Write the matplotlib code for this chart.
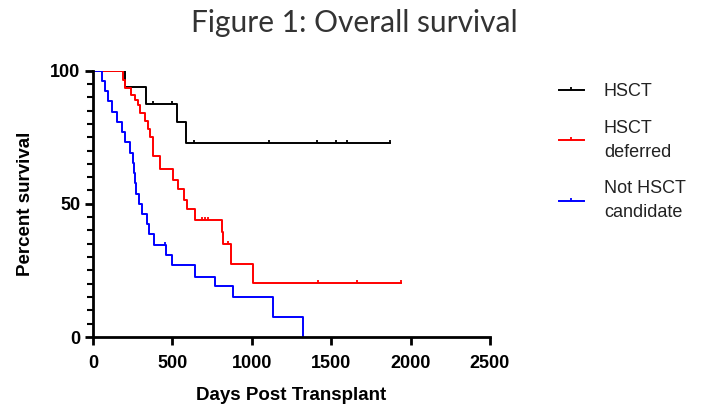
import numpy as np
import matplotlib
matplotlib.use("Agg")
from matplotlib import pyplot as plt
from matplotlib.ticker import MultipleLocator
from matplotlib.lines import Line2D

# step curves (day of step, survival after step)
hsct_days = [0, 201, 333, 526, 585, 1868]
hsct_surv = [100, 93.8, 87.5, 80.7, 73.0, 73.0]
hsct_cens = [138, 182, 191, 375, 497, 637, 1107, 1413, 1532, 1602, 1868]

deferred_days = [0, 190, 200, 240, 262, 285, 296, 327, 348, 358, 378, 425, 505,
                 537, 570, 592, 642, 810, 820, 872, 1008, 1940]
deferred_surv = [100, 96.5, 93.5, 91, 89, 87, 84, 81, 78, 75, 68, 63, 59,
                 55.5, 51.5, 48, 44, 39.5, 35, 27.5, 20.3, 20.3]
deferred_cens = [684, 705, 726, 851, 1416, 1660, 1940]

notcand_days = [0, 55, 75, 96, 117, 150, 180, 200, 235, 255, 260, 265, 272, 290,
                310, 340, 350, 385, 460, 495, 640, 770, 883, 1135, 1320]
notcand_surv = [100, 96.2, 92.3, 88.5, 84.6, 80.8, 76.9, 73.1, 69.2, 65.4, 61.5,
                57.7, 53.8, 50, 46.2, 42.3, 38.5, 34.6, 30.8, 26.9, 22.6, 19, 15,
                7.6, 0]
notcand_cens = [453]

labels = ["HSCT", "HSCT\ndeferred", "Not HSCT\ncandidate"]
colors = ["#000000", "#ff0000", "#0000ff"]

# tick mark standing on the curve, like the GraphPad censor marks
tick = [(0, 0), (0, 1)]


def surv_at(days, surv, t):
    i = np.searchsorted(days, t, side="right") - 1
    return np.array(surv)[i]


fig = plt.figure(figsize=(7.12, 4.13), dpi=100)
ax = fig.add_axes([0.1306, 0.184, 0.5576, 0.645])

groups = [(hsct_days, hsct_surv, hsct_cens),
          (deferred_days, deferred_surv, deferred_cens),
          (notcand_days, notcand_surv, notcand_cens)]

for (d, s, c), lab, col in zip(groups, labels, colors):
    ax.step(d, s, where="post", color=col, lw=1.4)
    ax.plot(c, surv_at(d, s, c), ls="none", marker=tick, ms=5,
            mec=col, mew=1.3)

handles = [Line2D([], [], color=col, lw=1.4, marker=tick, ms=5, mew=1.3)
           for col in colors]
leg = ax.legend(handles, labels, loc="upper left", bbox_to_anchor=(1.155, 0.98),
                frameon=False, handlelength=1.4, handletextpad=1.1,
                labelspacing=1.1, borderaxespad=0,
                prop={"family": "Liberation Sans", "size": 13})
for t in leg.get_texts():
    t.set_linespacing(1.5)
    t.set_color("#222222")

ax.set_xlim(0, 2500)
ax.set_ylim(0, 100)
ax.set_xticks([0, 500, 1000, 1500, 2000, 2500])
ax.set_yticks([0, 50, 100])
ax.yaxis.set_minor_locator(MultipleLocator(5))

for sp in ["top", "right"]:
    ax.spines[sp].set_visible(False)
for sp in ["left", "bottom"]:
    ax.spines[sp].set_linewidth(2)

ax.tick_params(which="major", length=6, width=2, labelsize=13, pad=3)
ax.tick_params(axis="x", which="major", pad=7)
ax.tick_params(which="minor", length=4, width=1.5)
for lab in ax.get_xticklabels() + ax.get_yticklabels():
    lab.set_fontfamily("Liberation Sans")
    lab.set_fontweight("bold")

ax.set_xlabel("Days Post Transplant", fontfamily="Liberation Sans",
              fontweight="bold", fontsize=13.5, labelpad=11)
ax.set_ylabel("Percent survival", fontfamily="Liberation Sans",
              fontweight="bold", fontsize=13.5, labelpad=12)

fig.text(0.497, 0.945, "Figure 1: Overall survival", ha="center", va="center",
         fontfamily="Lato", fontsize=21.5, color="#333333")

fig.savefig("out.png", dpi=100)
